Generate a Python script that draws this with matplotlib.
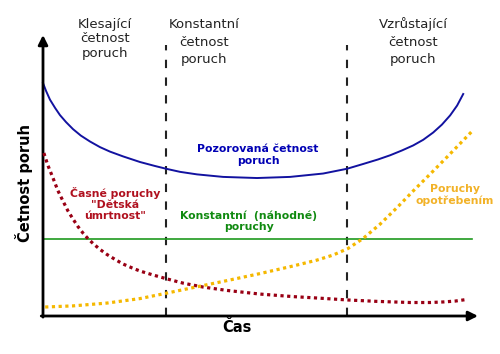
import matplotlib
matplotlib.use("Agg")
import matplotlib.pyplot as plt

# Data (time 0..100, failure rate 0..100)
observed_t = [0, 0.7, 1.6, 2.8, 3.9, 5.3, 6.9, 8.7, 10.8, 13.1, 15.4, 18.4, 22.3, 25.7,
              28.3, 31.5, 35.4, 41.4, 49.2, 56.8, 64.4, 69.9, 73.6, 77.0, 79.8, 82.5,
              85.1, 87.4, 89.7, 91.7, 93.6, 95.2, 96.6]
observed_r = [82.9, 80.1, 77.0, 74.0, 71.5, 69.0, 66.5, 64.2, 62.1, 60.1, 58.5, 56.8, 54.8, 53.4,
              52.4, 51.3, 50.4, 49.5, 49.1, 49.5, 50.7, 52.4, 54.1, 55.7, 57.2, 58.9,
              60.7, 62.7, 65.3, 68.1, 71.4, 74.9, 79.0]

early_t = [0.2, 1.1, 2.3, 3.4, 4.6, 5.7, 6.9, 8.0, 9.2, 10.3, 11.5, 13.1, 14.7, 16.6, 18.4,
           20.5, 22.3, 25.3, 28.5, 32.2, 36.8, 42.3, 49.9, 57.5, 63.0, 70.1, 76.8, 84.4,
           89.0, 92.0, 94.7, 97.5]
early_r = [58.0, 53.7, 49.1, 44.7, 40.9, 37.5, 34.5, 31.9, 29.5, 27.6, 25.8, 23.7, 21.9, 20.1, 18.5,
           17.1, 16.0, 14.6, 13.2, 11.7, 10.3, 9.1, 7.8, 6.9, 6.4, 5.7, 5.2, 4.8,
           4.8, 5.0, 5.3, 5.9]

wear_t = [0.5, 6.9, 14.7, 22.3, 28.0, 34.5, 42.3, 49.9, 57.5, 63.0, 66.7, 70.1, 73.6, 77.5,
          81.4, 85.1, 89.0, 92.9, 96.6, 98.6]
wear_r = [3.2, 3.6, 4.6, 6.2, 8.0, 10.1, 12.6, 15.1, 17.8, 19.9, 21.7, 24.0, 27.6, 32.7,
          38.6, 44.5, 50.5, 56.6, 62.5, 65.7]

constant_t = [0, 98.6]
constant_r = [27.4, 27.4]

phase_bounds = [28.3, 69.9]
phase_top = 96.4

W, H = 500, 354
fig = plt.figure(figsize=(W / 100, H / 100), dpi=100)
ax = fig.add_axes([43 / W, (H - 316) / H, 435 / W, 281 / H])
ax.set_xlim(0, 100)
ax.set_ylim(0, 100)
ax.axis("off")

# phase boundaries
for b in phase_bounds:
    ax.plot([b, b], [0, phase_top], color="#222222", lw=1.5,
            linestyle=(0, (4, 4.5)), clip_on=False, zorder=2)

ax.plot(constant_t, constant_r, color="#1f9a1f", lw=1.2, clip_on=False, zorder=3)
ax.plot(observed_t, observed_r, color="#1212a0", lw=1.4, clip_on=False, zorder=3,
        solid_joinstyle="round")
ax.plot(early_t, early_r, color="#990014", lw=2.3, linestyle=(0, (1, 1.1)),
        clip_on=False, zorder=4)
ax.plot(wear_t, wear_r, color="#f5b800", lw=2.3, linestyle=(0, (1, 1.1)),
        clip_on=False, zorder=4)

# axes arrows
arrow = dict(arrowstyle="-|>", lw=2, color="black", mutation_scale=14,
             shrinkA=0, shrinkB=0)
ax.annotate("", xy=(0, 1), xytext=(0, -0.004), xycoords="axes fraction",
            arrowprops=arrow)
ax.annotate("", xy=(1, 0), xytext=(-0.004, 0), xycoords="axes fraction",
            arrowprops=arrow)


def ftext(px, py, s, **kw):
    fig.text(px / W, 1 - py / H, s, ha="center", va="center", **kw)


# phase headers
ftext(105, 39, "Klesající\nčetnost\nporuch", fontsize=9.5, color="#222222",
      linespacing=1.15)
ftext(204, 42, "Konstantní\nčetnost\nporuch", fontsize=9.5, color="#222222",
      linespacing=1.45)
ftext(413, 42, "Vzrůstající\nčetnost\nporuch", fontsize=9.5, color="#222222",
      linespacing=1.45)

# curve labels
ftext(258, 155, "Pozorovaná četnost\nporuch", fontsize=7.8, fontweight="bold",
      color="#0000b4", linespacing=1.3)
ftext(115, 204, "Časné poruchy\n\"Dětská\númrtnost\"", fontsize=7.8,
      fontweight="bold", color="#b0101e", linespacing=1.15)
ftext(249, 221, "Konstantní  (náhodné)\nporuchy", fontsize=7.8,
      fontweight="bold", color="#108a10", linespacing=1.15)
ftext(455, 195, "Poruchy\nopotřebením", fontsize=7.8, fontweight="bold",
      color="#f2b227", linespacing=1.15)

# axis labels
ftext(24, 183, "Četnost poruh", fontsize=10.5, fontweight="bold", rotation=90)
ftext(237, 328, "Čas", fontsize=10.5, fontweight="bold")

fig.savefig("out.png", dpi=100)
